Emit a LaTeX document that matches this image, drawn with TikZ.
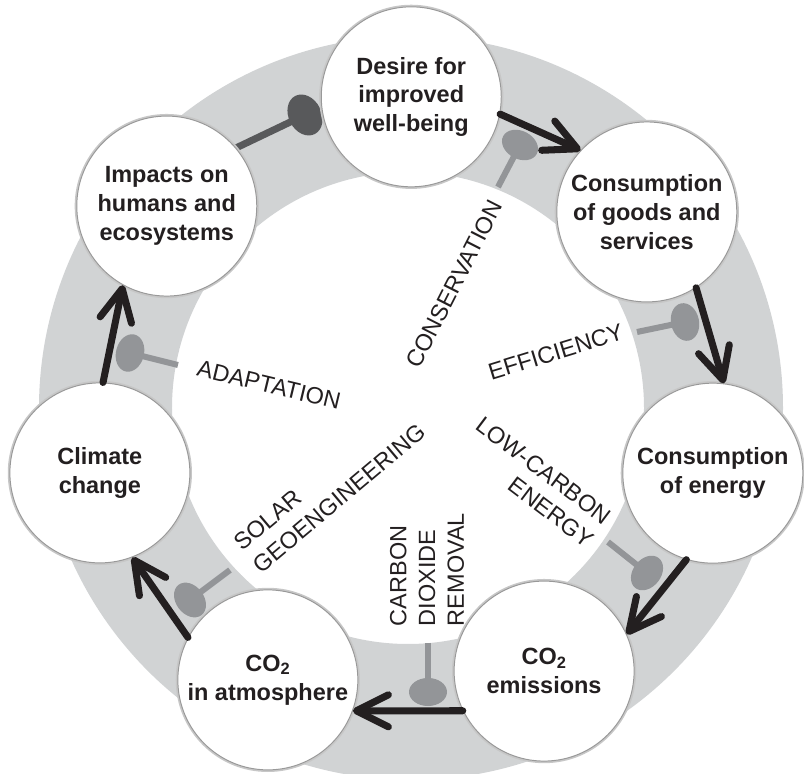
\documentclass[tikz,border=0pt]{standalone}
\usepackage{fontspec}
\setmainfont{Liberation Sans}
\usetikzlibrary{arrows.meta,shapes.geometric}

\definecolor{ink}{HTML}{231F20}
\definecolor{ringgrey}{HTML}{D1D3D4}
\definecolor{levergrey}{HTML}{939598}
\definecolor{darklever}{HTML}{58595B}

\pgfdeclarelayer{back}
\pgfsetlayers{back,main}

\tikzset{
	stage/.style={circle, fill=white, draw=black!40, line width=0.7pt, minimum size=4.5cm, inner sep=0pt,
		preaction={draw=black!22, line width=3pt},
		align=center, text=ink, font=\fontsize{16.7}{20.5}\selectfont\bfseries},
	lbl/.style={text=ink, inner sep=0pt, font=\fontsize{16.7}{20.5}\selectfont},
	flow/.style={draw=ink, line width=5pt, line cap=round, -{Straight Barb[length=0.8cm, width=0.8cm, round]}},
	stem/.style={draw=levergrey, line width=4.3pt},
	blob/.style={ellipse, fill=levergrey, inner sep=0pt, minimum width=0.7cm, minimum height=0.95cm},
}

\begin{document}
\begin{tikzpicture}
	\clip (-10.175,-9.3) rectangle (9.925,10.05);

	% the seven stages of the loop
	\node[stage] (desire)     at (89.2:7.63)   {Desire for\\improved\\well-being};
	\node[stage] (goods)      at (38.4:7.65)   {Consumption\\of goods and\\services};
	\node[stage] (energy)     at (-13.1:7.85)  {Consumption\\of energy};
	\node[stage] (emissions)  at (-63:7.55)    {CO\textsubscript{2}\\emissions};
	\node[stage] (atmosphere) at (-116.6:7.77) {CO\textsubscript{2}\\in atmosphere};
	\node[stage] (climate)    at (-167:7.88)   {Climate\\change};
	\node[stage] (impacts)    at (140.8:7.75)  {Impacts on\\humans and\\ecosystems};

	\draw[flow] (desire.-11) -- (goods.137);
	\draw[flow] (goods.-57) -- (energy.83);
	\draw[flow] (energy.-107) -- (emissions.24);
	\draw[flow] (emissions.-154) -- (atmosphere.-20);
	\draw[flow] (atmosphere.152) -- (climate.-69);
	\draw[flow] (climate.88) -- (impacts.-119);

	% responses
	\node[lbl, rotate=63] (conservation) at (1.18,2.95) {CONSERVATION};
	\node[lbl, rotate=17] (efficiency) at (3.72,1.25) {EFFICIENCY};
	\node[lbl, rotate=-13.5] (adaptation) at (-3.45,0.43) {ADAPTATION};
	\node[lbl, rotate=-37, align=right] (lowcarbon) at (3.2,-2.0) {LOW-CARBON\\ENERGY};
	\node[lbl, rotate=40, align=left] (solar) at (-1.93,-2.13) {SOLAR\\GEOENGINEERING};
	\node[lbl, rotate=90, align=left] (removal) at (0.5,-4.19) {CARBON\\DIOXIDE\\REMOVAL};

	\begin{pgfonlayer}{back}
		\fill[ringgrey, even odd rule] (0.1,-0.15) circle (9.3) (0.025,-0.15) circle (5.9);

		\coordinate (c1) at (2.275,5.375);
		\coordinate (c2) at (5.75,1.75);
		\coordinate (c3) at (5.025,-3.5);
		\coordinate (c4) at (0.525,-6.025);
		\coordinate (c5) at (-4.425,-4.2);
		\coordinate (c6) at (-5.725,0.925);
		\node[blob, rotate=62]  (b1) at (2.825,6.425) {};
		\node[blob, rotate=12]  (b2) at (6.95,2.0) {};
		\node[blob, rotate=-38] (b3) at (6.0,-4.275) {};
		\node[blob, rotate=-90] (b4) at (0.525,-7.25) {};
		\node[blob, rotate=37]  (b5) at (-5.425,-4.95) {};
		\node[blob, rotate=-14] (b6) at (-6.925,1.225) {};
		\draw[stem] (c1) -- (b1.center);
		\draw[stem] (c2) -- (b2.center);
		\draw[stem] (c3) -- (b3.center);
		\draw[stem] (c4) -- (b4.center);
		\draw[stem] (c5) -- (b5.center);
		\draw[stem] (c6) -- (b6.center);

		% impacts feed back on well-being
		\node[blob, fill=darklever, rotate=27, minimum width=0.82cm, minimum height=1.07cm] (b7) at (-2.55,7.175) {};
		\draw[stem, draw=darklever, line width=5pt] (impacts.40) -- (b7.center);
	\end{pgfonlayer}
\end{tikzpicture}
\end{document}
